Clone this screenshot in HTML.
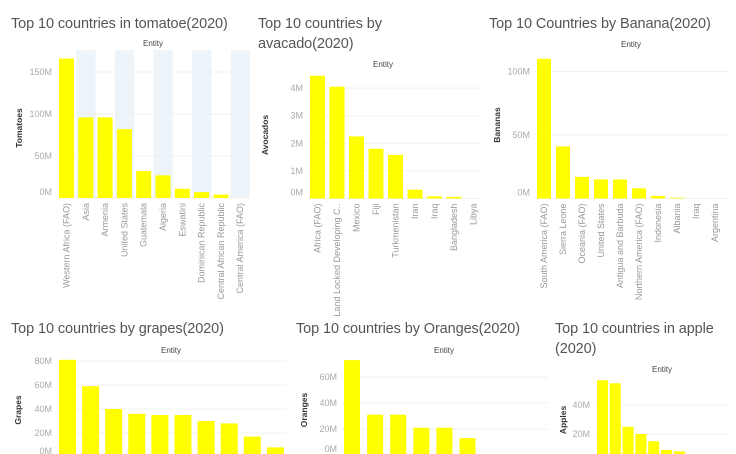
<!DOCTYPE html>
<html><head><meta charset="utf-8">
<style>
html,body{margin:0;padding:0;background:#fff;}
svg{display:block;font-family:"Liberation Sans",sans-serif;}
.title{font-size:14.5px;fill:#555;letter-spacing:-0.1px;}
.tick{font-size:9px;fill:#aaa;}
.xl{font-size:9px;fill:#999;}
.ent{font-size:8px;fill:#444;}
.ytitle{font-size:8.5px;fill:#333;font-weight:bold;}
</style></head><body>
<svg id="svg" width="736" height="454" viewBox="0 0 736 454"></svg>
<script>
const tomatoCats=["Western Africa (FAO)","Asia","Armenia","United States","Guatemala","Algeria","Eswatini","Dominican Republic","Central African Republic","Central America (FAO)"];
const tomatoVals=[166,96,96,82,32,27,11,7,4,0];
const tomatoTicks=[0,50,100,150];
const avoCats=["Africa (FAO)","Land Locked Developing C..","Mexico","Fiji","Turkmenistan","Iran","Iraq","Bangladesh","Libya"];
const avoVals=[4.45,4.05,2.25,1.8,1.58,0.32,0.08,0.06,0];
const avoTicks=[0,1,2,3,4];
const banCats=["South America (FAO)","Sierra Leone","Oceania (FAO)","United States","Antigua and Barbuda","Northern America (FAO)","Indonesia","Albania","Iraq","Argentina"];
const banVals=[110,41,17,15,15,8,2,0.6,0,0];
const banTicks=[0,50,100];
const grapeVals=[81,59,40,36,35,35,30,28,17,8];
const grapeTicks=[0,20,40,60,80];
const orangeVals=[73,31,31,21,21,13];
const orangeTicks=[0,20,40,60];
const appleVals=[57,55,25,20,15,9,8];
const appleTicks=[20,40];

const NS="http://www.w3.org/2000/svg";
const svg=document.getElementById('svg');
function mk(tag,attrs,parent,text){const e=document.createElementNS(NS,tag);for(const k in attrs)e.setAttribute(k,attrs[k]);if(text!==undefined)e.textContent=text;(parent||svg).appendChild(e);return e;}

function chart(o){
  const g=mk('g',{});
  
  
  const y=v=>o.y0-v*o.ppu;
  o.titleLines.forEach((t,i)=>{const e=mk('text',{x:o.tx,y:o.ty+i*20,class:'title'},g,t);
    });
  const en=mk('text',{x:o.ex,y:o.ey,class:'ent','text-anchor':'middle'},g,'Entity');
  
  const n=o.cats?o.cats.length:o.vals.length;
  if(o.bands){for(let i=1;i<n;i+=2){const b=mk('rect',{x:o.x0+i*o.step-2,y:o.top,width:o.step,height:o.y0-o.top,fill:'#eef5fa'},g);
    }}
  o.ticks.forEach(t=>{
    const gl=mk('line',{x1:o.px0,x2:o.px1,y1:y(t),y2:y(t),stroke:'#f0f0f0','stroke-width':1},g);
    
    const ty=t===0?y(t)-3:y(t)+3;
    const tl=mk('text',{x:o.px0-5,y:ty,class:'tick','text-anchor':'end'},g,t+'M');
    
  });
  const yt=mk('text',{x:0,y:0,class:'ytitle','text-anchor':'middle',transform:`translate(${o.ytx},${o.yty}) rotate(-90)`},g,o.ytitle);
  
  o.vals.forEach((v,i)=>{
    const bx=o.x0+i*o.step;
    const r=mk('rect',{x:bx,y:y(v),width:o.bw,height:Math.max(0,v*o.ppu),fill:'#ffff00'},g);
    
    
  });
  if(o.cats){o.cats.forEach((c,i)=>{
    const cx=o.x0+i*o.step+o.bw/2+3;
    const t=mk('text',{x:0,y:0,class:'xl','text-anchor':'end',transform:`translate(${cx},${o.y0+5}) rotate(-90)`},g,c);
    
    
  });}
}
chart({name:'tomato-chart',titleLines:['Top 10 countries in tomatoe(2020)'],tx:11,ty:28,ex:153,ey:46,
  cats:tomatoCats,vals:tomatoVals,ticks:tomatoTicks,x0:59,step:19.3,bw:15,y0:198,ppu:0.84,top:50,px0:57,px1:250,
  ytitle:'Tomatoes',ytx:22,yty:128,bands:true});
chart({name:'avocado-chart',titleLines:['Top 10 countries by','avacado(2020)'],tx:258,ty:28,ex:383,ey:67,
  cats:avoCats,vals:avoVals,ticks:avoTicks,x0:310,step:19.5,bw:15,y0:198.5,ppu:27.6,top:70,px0:308,px1:481,
  ytitle:'Avocados',ytx:268,yty:135});
chart({name:'banana-chart',titleLines:['Top 10 Countries by Banana(2020)'],tx:489,ty:28,ex:631,ey:47,
  cats:banCats,vals:banVals,ticks:banTicks,x0:537,step:19,bw:14,y0:198.5,ppu:1.27,top:50,px0:535,px1:728,
  ytitle:'Bananas',ytx:500,yty:125});
chart({name:'grapes-chart',titleLines:['Top 10 countries by grapes(2020)'],tx:11,ty:333,ex:171,ey:353,
  vals:grapeVals,ticks:grapeTicks,x0:59,step:23.1,bw:17,y0:457,ppu:1.2,top:360,px0:57,px1:287,
  ytitle:'Grapes',ytx:21,yty:410});
chart({name:'oranges-chart',titleLines:['Top 10 countries by Oranges(2020)'],tx:296,ty:333,ex:444,ey:353,
  vals:orangeVals,ticks:orangeTicks,x0:344,step:23.1,bw:16,y0:455,ppu:1.3,top:360,px0:342,px1:548,
  ytitle:'Oranges',ytx:307,yty:410});
chart({name:'apple-chart',titleLines:['Top 10 countries in apple','(2020)'],tx:555,ty:333,ex:662,ey:372,
  vals:appleVals,ticks:appleTicks,x0:597,step:12.8,bw:11,y0:463,ppu:1.45,top:378,px0:595,px1:730,
  ytitle:'Apples',ytx:566,yty:420});
</script>
</body></html>
